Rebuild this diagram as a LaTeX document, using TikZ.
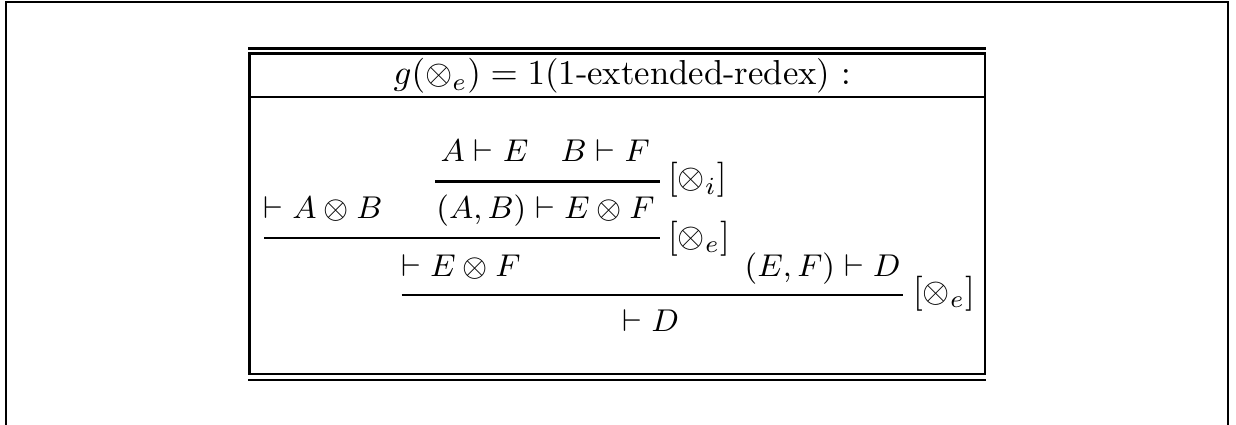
\documentclass[tikz,border=0pt]{standalone}
\usepackage{amsmath}
\begin{document}
\begin{tikzpicture}[x=0.2857pt,y=-0.2857pt,
  frameline/.style={line width=0.7pt},
  ruleline/.style={line width=0.7pt},
  hdr/.style={inner sep=0pt,anchor=base,font=\fontsize{9.9}{12}\selectfont},
  formula/.style={inner sep=0pt,anchor=base west,font=\fontsize{9.4}{11}\selectfont},
  lbl/.style={inner sep=0pt,anchor=base west,font=\fontsize{9.8}{11}\selectfont}]
\useasboundingbox (0,0) rectangle (1236,425);
% outer frame (open at bottom)
\coordinate (fbl) at (6,425);
\coordinate (ftl) at (6,2);
\coordinate (ftr) at (1228,2);
\coordinate (fbr) at (1228,425);
\draw[frameline] (fbl) -- (ftl) -- (ftr) -- (fbr);
% table
\coordinate (t1a) at (248.3,48.7); \coordinate (t1b) at (986.3,48.7);
\coordinate (t2a) at (248.3,53.7); \coordinate (t2b) at (986.3,53.7);
\coordinate (tla) at (249.5,53.7); \coordinate (tlb) at (249.5,373.8);
\coordinate (tra) at (985,53.7);   \coordinate (trb) at (985,373.8);
\coordinate (hsa) at (249.5,96.8); \coordinate (hsb) at (985,96.8);
\coordinate (b1a) at (248.3,373.8); \coordinate (b1b) at (986.3,373.8);
\coordinate (b2a) at (248.3,379.8); \coordinate (b2b) at (986.3,379.8);
\draw[frameline] (t1a) -- (t1b);
\draw[frameline] (t2a) -- (t2b);
\draw[frameline] (tla) -- (tlb);
\draw[frameline] (tra) -- (trb);
\draw[frameline] (hsa) -- (hsb);
\draw[frameline] (b1a) -- (b1b);
\draw[frameline] (b2a) -- (b2b);
% header
\node[hdr] (head) at (622.5,85) {$g(\otimes_e) = 1$(1-extended-redex) :};
% proof tree
\node[formula] (ae) at (440,161.7) {$A \vdash E$};
\node[formula] (bf) at (560,161.7) {$B \vdash F$};
\coordinate (l1a) at (435,181.3); \coordinate (l1b) at (660,181.3);
\draw[ruleline] (l1a) -- (l1b);
\node[lbl] (li) at (667.5,189) {$[\otimes_i]$};
\node[formula] (ab) at (263,218.3) {$\vdash A \otimes B$};
\node[formula] (abef) at (435.7,218.3) {$(A,B) \vdash E \otimes F$};
\coordinate (l2a) at (264,238); \coordinate (l2b) at (660,238);
\draw[ruleline] (l2a) -- (l2b);
\node[lbl] (le1) at (667.5,247) {$[\otimes_e]$};
\node[formula] (ef) at (400.7,276.7) {$\vdash E \otimes F$};
\node[formula] (efd) at (744,276.7) {$(E,F) \vdash D$};
\coordinate (l3a) at (401.7,295); \coordinate (l3b) at (903,295);
\draw[ruleline] (l3a) -- (l3b);
\node[lbl] (le2) at (912.5,302) {$[\otimes_e]$};
\node[formula] (d) at (622,331.7) {$\vdash D$};
\end{tikzpicture}
\end{document}
